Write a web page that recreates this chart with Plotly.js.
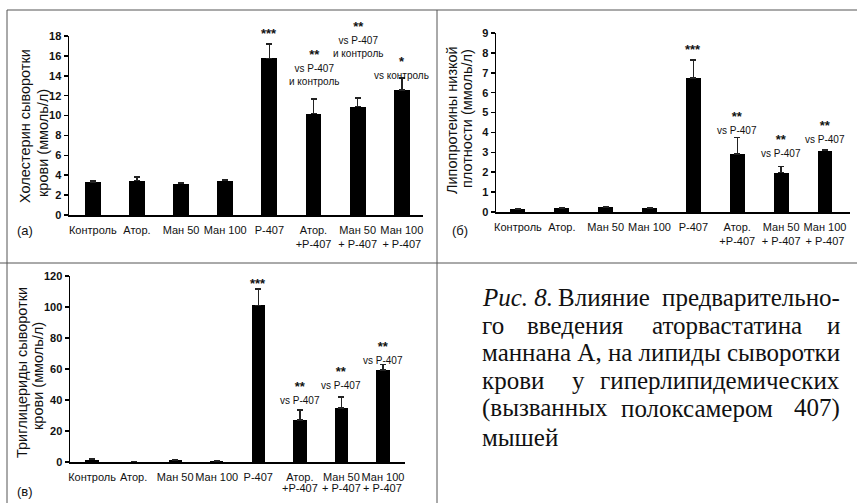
<!DOCTYPE html>
<html>
<head>
<meta charset="utf-8">
<script src="https://cdn.plot.ly/plotly-3.0.1.min.js"></script>
<style>html,body{margin:0;padding:0;background:#fff;}#chart{width:857px;height:503px;}</style>
</head>
<body>
<div id="chart"></div>
<script>
// ---- data ----
const groups = ['Контроль', 'Атор.', 'Ман 50', 'Ман 100', 'P-407', 'Атор.', 'Ман 50', 'Ман 100'];
const groupSuffix = ['', '', '', '', '', '+P-407', '+ P-407', '+ P-407'];
const positions = [0, 1, 2, 3, 4, 5, 6, 7];

const cholesterol = [3.3, 3.45, 3.15, 3.45, 15.75, 10.2, 10.9, 12.55];
const cholesterolErr = [0.15, 0.35, 0.05, 0.05, 1.45, 1.45, 0.85, 1.25];
const ldl = [0.15, 0.2, 0.23, 0.18, 6.75, 2.92, 1.98, 3.09];
const ldlErr = [0.02, 0.03, 0.02, 0.02, 0.9, 0.82, 0.3, 0.03];
const triglycerides = [1.5, 0.3, 1.1, 0.6, 101, 27, 35, 59.3];
const triglyceridesErr = [0.3, 0.1, 0.2, 0.2, 10.5, 6.5, 7, 3.6];

const cholStars = ['', '', '', '', '***', '**', '**', '*'];
const cholNotes = ['', '', '', '', '', 'vs P-407<br>и контроль', 'vs P-407<br>и контроль', 'vs контроль'];
const ldlStars = ['', '', '', '', '***', '**', '**', '**'];
const ldlNotes = ['', '', '', '', '', 'vs P-407', 'vs P-407', 'vs P-407'];
const tgStars = ['', '', '', '', '***', '**', '**', '**'];
const tgNotes = ['', '', '', '', '', 'vs P-407', 'vs P-407', 'vs P-407'];

const titleA = ['Холестерин сыворотки', 'крови (ммоль/л)'];
const titleB = ['Липопротеины низкой', 'плотности (ммоль/л)'];
const titleC = ['Триглицериды сыворотки', 'крови (ммоль/л)'];
const panelLabels = ['(а)', '(б)', '(в)'];

// ---- helpers ----
const W = 857, H = 503;
const px = v => v / W;
const py = v => 1 - v / H;
const zeros = positions.map(() => 0);
const sans = 'Liberation Sans, Arial, sans-serif';
const serif = 'Liberation Serif';

function barTrace(vals, errs, ax, width) {
  return {
    type: 'bar', x: positions, y: vals, xaxis: 'x' + ax, yaxis: 'y' + ax,
    width: width, marker: {color: '#000', line: {width: 0}},
    error_y: {type: 'data', symmetric: false, array: errs, arrayminus: zeros,
              color: '#222', thickness: 1.5, width: 3},
    hoverinfo: 'x+y'
  };
}

function xAxis(dom, range, withSecondLine, anchor) {
  return {
    domain: dom, range: range, anchor: anchor, tickmode: 'array', tickvals: positions,
    ticktext: groups.map((g, i) => (withSecondLine && groupSuffix[i]) ? g + '<br>' + groupSuffix[i] : g),
    tickangle: 0,
    showline: true, linecolor: '#000', linewidth: 1.5, ticks: '', showgrid: false,
    zeroline: false, tickfont: {family: sans, size: 11, color: '#111'},
    ticklabelstandoff: 4, fixedrange: true
  };
}
function yAxis(dom, range, dtick, anchor) {
  return {
    domain: dom, range: range, dtick: dtick, anchor: anchor, ticks: 'outside', ticklen: 4,
    tickwidth: 1.5, tickcolor: '#000', showline: true, linecolor: '#000', linewidth: 1.5,
    showgrid: false, zeroline: false,
    tickfont: {family: sans, size: 11, color: '#111', weight: 'bold'}, fixedrange: true
  };
}

const data = [
  barTrace(cholesterol, cholesterolErr, '', 0.36),
  barTrace(ldl, ldlErr, '2', 0.34),
  barTrace(triglycerides, triglyceridesErr, '3', 0.32)
];

const annotations = [];
// significance marks: stars (bold, larger) and comparison note stacked in one text block
function addSig(ax, vals, errs, stars, notes, shift) {
  positions.forEach(i => {
    if (!stars[i] && !notes[i]) return;
    const top = vals[i] + errs[i];
    let txt = '';
    if (stars[i]) txt += '<span style="font-size:13px;font-weight:bold">' + stars[i] + '</span>';
    if (notes[i]) txt += (txt ? '<br>' : '') + notes[i];
    annotations.push({xref: 'x' + ax, yref: 'y' + ax, x: i, y: top, yshift: shift[i],
      text: txt, showarrow: false, yanchor: 'middle',
      font: {family: sans, size: 10, color: '#111'}});
  });
}
addSig('', cholesterol, cholesterolErr, cholStars, cholNotes, [0, 0, 0, 0, 10, 32, 59, 10]);
addSig('2', ldl, ldlErr, ldlStars, ldlNotes, [0, 0, 0, 0, 10, 15, 21, 18]);
addSig('3', triglycerides, triglyceridesErr, tgStars, tgNotes, [0, 0, 0, 0, 6, 18, 19, 12]);

// second line of x labels in panel (в)
positions.forEach(i => {
  if (groupSuffix[i]) annotations.push({xref: 'x3', yref: 'paper', x: i, y: py(488), text: groupSuffix[i],
    showarrow: false, yanchor: 'middle', font: {family: sans, size: 11, color: '#111'}});
});

// y titles
function yTitle(lines, xs, ys) {
  lines.forEach((t, k) => annotations.push({xref: 'paper', yref: 'paper', x: px(xs[k]), y: py(ys[k]),
    text: t, textangle: -90, showarrow: false, xanchor: 'center', yanchor: 'middle',
    font: {family: sans, size: 14.5, color: '#111'}}));
}
yTitle(titleA, [25, 43], [126, 143]);
yTitle(titleB, [452, 467], [120, 119]);
yTitle(titleC, [22, 38], [373, 376]);

// panel labels
[[panelLabels[0], 25, 230], [panelLabels[1], 460, 230], [panelLabels[2], 25, 491]].forEach(p =>
  annotations.push({xref: 'paper', yref: 'paper', x: px(p[1]), y: py(p[2]), text: p[0], showarrow: false,
    xanchor: 'center', yanchor: 'middle', font: {family: sans, size: 13, color: '#111'}}));

// caption (justified by hand)
const capFont = {family: serif, size: 25, color: '#111'};
const capLines = [
  [['<i>Рис. 8.</i>', 'left', 480], ['Влияние', 'center', 604], ['предварительно-', 'right', 842]],
  [['го', 'left', 480], ['введения', 'center', 575], ['аторвастатина', 'center', 727], ['и', 'right', 842]],
  [['маннана А, на липиды сыворотки', 'left', 480]],
  [['крови', 'left', 480], ['у', 'center', 578], ['гиперлипидемических', 'right', 842]],
  [['(вызванных', 'left', 480], ['полоксамером', 'center', 697], ['407)', 'right', 842]],
  [['мышей', 'left', 480]]
];
const capY = [297, 325, 352, 380, 408, 437];
capLines.forEach((line, k) => line.forEach(w => annotations.push({xref: 'paper', yref: 'paper',
  x: px(w[2]), y: py(capY[k]), text: w[0], xanchor: w[1], yanchor: 'middle', showarrow: false, font: capFont})));

// frame lines
const lineStyle = {color: '#555', width: 1};
const shapes = [
  {type: 'line', xref: 'paper', yref: 'paper', x0: px(7), x1: 1, y0: py(10), y1: py(10), line: lineStyle},
  {type: 'line', xref: 'paper', yref: 'paper', x0: px(7), x1: px(7), y0: py(10), y1: 0, line: lineStyle},
  {type: 'line', xref: 'paper', yref: 'paper', x0: px(437), x1: px(437), y0: py(10), y1: 0, line: lineStyle},
  {type: 'line', xref: 'paper', yref: 'paper', x0: 0, x1: 1, y0: py(263), y1: py(263), line: lineStyle}
];

const layout = {
  width: W, height: H, margin: {l: 0, r: 0, t: 0, b: 0},
  paper_bgcolor: '#fff', plot_bgcolor: 'rgba(0,0,0,0)', showlegend: false, bargap: 0,
  xaxis: xAxis([px(69), px(423)], [-0.54, 7.48], true, 'y'),
  yaxis: yAxis([py(215), py(36)], [0, 18], 2, 'x'),
  xaxis2: xAxis([px(496), px(850)], [-0.5, 7.57], true, 'y2'),
  yaxis2: yAxis([py(212), py(33)], [0, 9], 1, 'x2'),
  xaxis3: xAxis([px(70), px(405)], [-0.53, 7.53], false, 'y3'),
  yaxis3: yAxis([py(462), py(276)], [0, 120], 20, 'x3'),
  annotations: annotations, shapes: shapes
};

Plotly.newPlot('chart', data, layout, {displayModeBar: false, staticPlot: true});
</script>
</body>
</html>
